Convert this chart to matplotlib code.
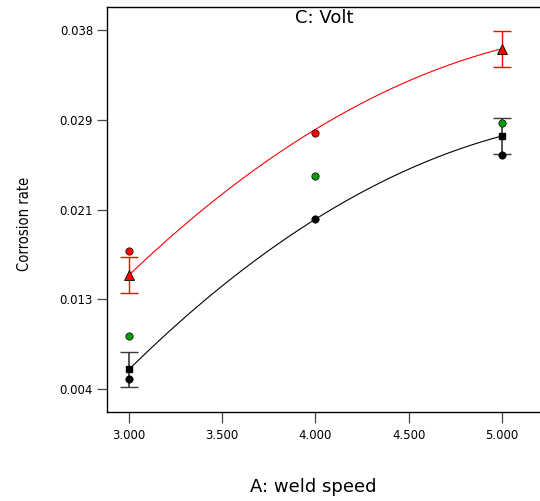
import numpy as np
import matplotlib.pyplot as plt
from matplotlib import font_manager

# design points (A: weld speed)
speed = np.array([3.0, 4.0, 5.0])

# observed runs
red_obs_x = [3.0, 4.0]
red_obs_y = [0.01708, 0.02822]
green_obs_x = [3.0, 4.0, 5.0]
green_obs_y = [0.0090, 0.02418, 0.02923]
black_obs_x = [3.0, 4.0, 5.0]
black_obs_y = [0.0050, 0.02014, 0.02620]

# model predictions at the design points
red_pred = np.array([0.01481, 0.0286, 0.03623])
black_pred = np.array([0.00588, 0.0201, 0.02797])

# error bars (only at the end points)
bar_x = [3.0, 5.0]
red_bar_y = [0.01481, 0.03623]
red_bar_err = [0.00168, 0.00170]
black_bar_y = [0.00588, 0.02797]
black_bar_err = [0.00167, 0.00170]

yticks = [0.004, 0.0125, 0.021, 0.0295, 0.038]
ytick_labels = ["0.004", "0.013", "0.021", "0.029", "0.038"]
xticks = [3.0, 3.5, 4.0, 4.5, 5.0]
xtick_labels = ["3.000", "3.500", "4.000", "4.500", "5.000"]

# a condensed face for the y label, if one is around
fonts = font_manager.fontManager.ttflist
cond = [f for f in fonts if f.stretch in ("condensed", "semi-condensed", "extra-condensed")
        or "Narrow" in f.name or "Condensed" in f.name]
if cond:
    ylab_font = dict(family=cond[0].name, stretch=cond[0].stretch)
else:
    ylab_font = dict(family="DejaVu Sans")

fig = plt.figure(figsize=(5.4, 5.01), dpi=100)
ax = fig.add_axes([107 / 540, 89 / 501, 434 / 540, 405 / 501])

# fitted quadratic curves
xs = np.linspace(3.0, 5.0, 200)
red_fit = np.polyfit(speed, red_pred, 2)
black_fit = np.polyfit(speed, black_pred, 2)
ax.plot(xs, np.polyval(red_fit, xs), color="red", lw=0.8, zorder=2)
ax.plot(xs, np.polyval(black_fit, xs), color="black", lw=0.8, zorder=2)

# error bars
ax.errorbar(bar_x, red_bar_y, yerr=red_bar_err, fmt="none", ecolor="red",
            elinewidth=1.0, capsize=6.5, capthick=1.0, zorder=3)
ax.errorbar(bar_x, black_bar_y, yerr=black_bar_err, fmt="none", ecolor="#3a3a3a",
            elinewidth=1.2, capsize=6.5, capthick=1.0, zorder=3)

# predictions
ax.plot(bar_x, red_bar_y, ls="none", marker="^", ms=7.5, mfc="red",
        mec="black", mew=0.6, zorder=5)
ax.plot(bar_x, black_bar_y, ls="none", marker="s", ms=5, mfc="black",
        mec="black", zorder=5)

# observations
ax.plot(red_obs_x, red_obs_y, ls="none", marker="o", ms=5.3, mfc="red",
        mec="black", mew=0.5, zorder=4)
ax.plot(green_obs_x, green_obs_y, ls="none", marker="o", ms=5.3, mfc="#0a9a0a",
        mec="black", mew=0.5, zorder=4)
ax.plot(black_obs_x, black_obs_y, ls="none", marker="o", ms=5.3, mfc="black",
        mec="black", mew=0.5, zorder=4)

ax.set_xlim(2.882, 5.21)
ax.set_ylim(0.00185, 0.04018)
ax.set_xticks(xticks)
ax.set_xticklabels(xtick_labels, fontsize=8.5)
ax.set_yticks(yticks)
ax.set_yticklabels(ytick_labels, fontsize=8.5)
ax.tick_params(axis="x", length=8, width=0.9, color="#444444", pad=4)
ax.tick_params(axis="y", length=7, width=0.9, color="#444444", pad=3)
ax.spines["right"].set_visible(False)
for s in ["left", "top", "bottom"]:
    ax.spines[s].set_linewidth(1.0)

ax.text(0.5, 0.995, "C: Volt", transform=ax.transAxes, ha="center", va="top",
        fontsize=13)
fig.text(313 / 540, 1 - 487 / 501, "A: weld speed", ha="center", va="center",
         fontsize=13)
fig.text(25 / 540, 1 - 224 / 501, "Corrosion rate", rotation=90, ha="center",
         va="center", fontsize=10.5, **ylab_font)

fig.savefig("out.png", dpi=100)
